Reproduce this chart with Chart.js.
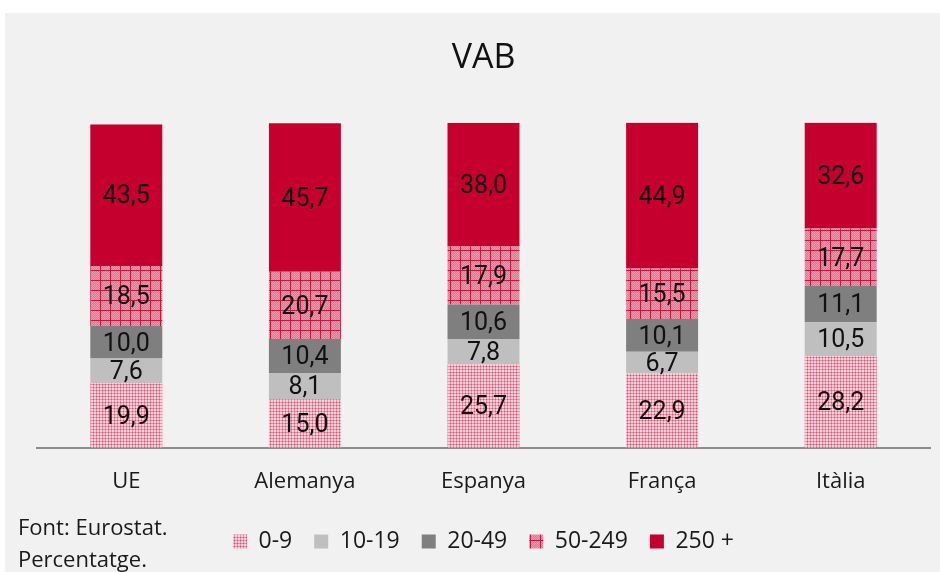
<!DOCTYPE html>
<html>
<head>
<meta charset="utf-8">
<script src="https://cdn.jsdelivr.net/npm/chart.js@4.4.1/dist/chart.umd.min.js"></script>
<style>
  html, body { margin: 0; padding: 0; background: #ffffff; }
  #wrap { position: relative; width: 940px; height: 572px; overflow: hidden; }
  #bg { position: absolute; left: 5px; top: 13px; right: 0; bottom: 0; background: #f1f1f1; }
  canvas { position: absolute; left: 0; top: 0; }
  #note { position: absolute; left: 18px; top: 510px; font-family: "Open Sans", sans-serif; font-size: 22px; line-height: 32px; color: #1a1a1a; }
</style>
</head>
<body>
<div id="wrap">
  <div id="bg"></div>
  <canvas id="c" width="940" height="572"></canvas>
  <div id="note">Font: Eurostat.<br>Percentatge.</div>
</div>
<script>
const categories = ["UE", "Alemanya", "Espanya", "França", "Itàlia"];
const seriesNames = ["0-9", "10-19", "20-49", "50-249", "250 +"];
const s0_9    = [19.9, 15.0, 25.7, 22.9, 28.2];
const s10_19  = [7.6, 8.1, 7.8, 6.7, 10.5];
const s20_49  = [10.0, 10.4, 10.6, 10.1, 11.1];
const s50_249 = [18.5, 20.7, 17.9, 15.5, 17.7];
const s250    = [43.5, 45.7, 38.0, 44.9, 32.6];
const chartTitle = "VAB";

function makePattern(size, painter) {
  const c = document.createElement('canvas');
  c.width = size; c.height = size;
  const x = c.getContext('2d');
  painter(x, size);
  return x.createPattern(c, 'repeat');
}
const pat09 = makePattern(3, (x) => {
  x.fillStyle = '#f7d2da'; x.fillRect(0, 0, 3, 3);
  x.fillStyle = '#eb93a7'; x.fillRect(0, 0, 3, 1); x.fillRect(0, 0, 1, 3);
  x.fillStyle = '#dc4d6d'; x.fillRect(0, 0, 1, 1);
});
const pat50 = makePattern(10, (x) => {
  for (let i = 0; i < 10; i++) for (let j = 0; j < 10; j++) {
    x.fillStyle = ((i + j) % 2) ? '#e07990' : '#ea99ab';
    x.fillRect(i, j, 1, 1);
  }
  x.fillStyle = '#c8173f';
  x.fillRect(0, 0, 10, 1); x.fillRect(0, 0, 1, 10);
});

const fills = [pat09, '#bfbfbf', '#7f7f7f', pat50, '#c5002e'];
const values = [s0_9, s10_19, s20_49, s50_249, s250];

const labelPlugin = {
  id: 'valueLabels',
  afterDatasetsDraw(chart) {
    const ctx = chart.ctx;
    ctx.save();
    ctx.font = '25px Roboto, sans-serif';
    ctx.fillStyle = '#111111';
    ctx.textAlign = 'center';
    ctx.textBaseline = 'middle';
    chart.data.datasets.forEach((ds, di) => {
      const meta = chart.getDatasetMeta(di);
      meta.data.forEach((bar, i) => {
        const v = ds.data[i];
        const y = (bar.y + bar.base) / 2;
        ctx.fillText(v.toFixed(1).replace('.', ','), bar.x, y + 2);
      });
    });
    ctx.restore();
  }
};

new Chart(document.getElementById('c'), {
  type: 'bar',
  data: {
    labels: categories,
    datasets: seriesNames.map((n, k) => ({
      label: n,
      data: values[k],
      backgroundColor: fills[k],
      borderWidth: 0,
      barPercentage: 0.403,
      categoryPercentage: 1.0
    }))
  },
  options: {
    responsive: false,
    animation: false,
    devicePixelRatio: 1,
    layout: { padding: { left: 37, right: 10, top: 0, bottom: 9 } },
    plugins: {
      title: {
        display: true, text: chartTitle, color: '#111',
        font: { family: 'Open Sans', size: 34, weight: 'normal' },
        padding: { top: 38, bottom: 44 }
      },
      legend: {
        position: 'bottom',
        labels: {
          color: '#1a1a1a',
          font: { family: 'Open Sans', size: 23 },
          boxWidth: 14, boxHeight: 14, padding: 22
        }
      },
      tooltip: { enabled: false }
    },
    scales: {
      x: {
        stacked: true,
        grid: { display: false, drawTicks: false },
        border: { display: true, color: '#8c8c8c', width: 2 },
        ticks: { color: '#1a1a1a', font: { family: 'Open Sans', size: 22 }, padding: 21 },
        afterFit: (s) => { s.height = 60; }
      },
      y: {
        stacked: true, display: false, min: 0, max: 100
      }
    }
  },
  plugins: [labelPlugin]
});
</script>
</body>
</html>
